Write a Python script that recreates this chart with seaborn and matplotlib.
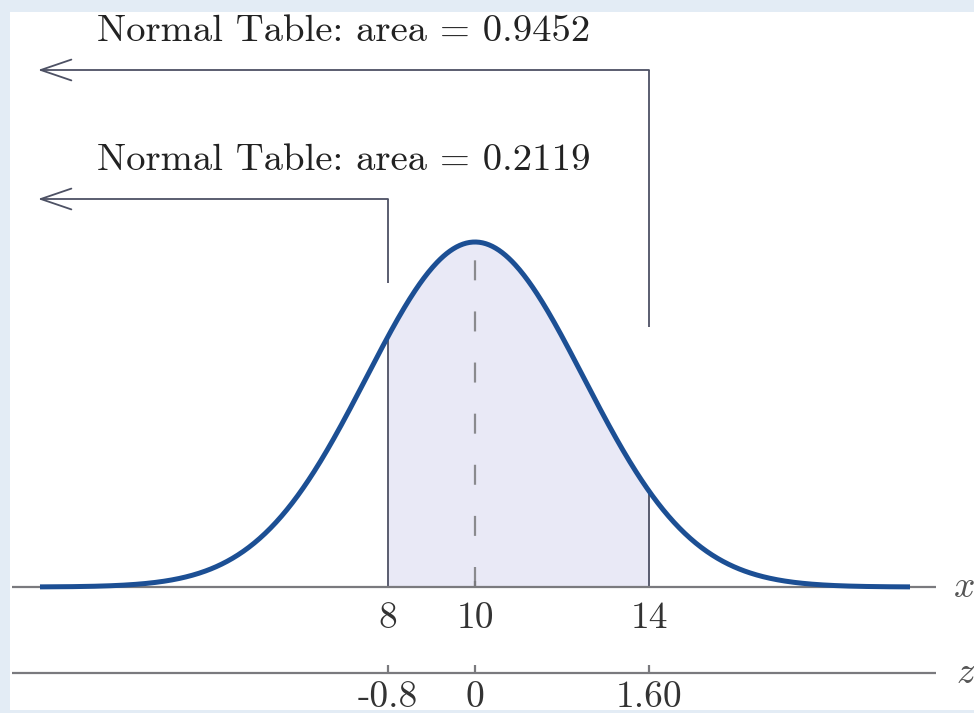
import numpy as np
import pandas as pd
import matplotlib
matplotlib.use("Agg")
import matplotlib.pyplot as plt
from matplotlib.patches import Rectangle
import seaborn as sns

# Distribution and the two cut points
mu = 10
sigma = 2.5
x_ticks = [8, 10, 14]
x_tick_labels = ["8", "10", "14"]
z_tick_labels = ["-0.8", "0", "1.60"]
cut_points = [8, 14]
table_areas = [0.2119, 0.9452]
x_min, x_max = 0, 20

sns.set_theme(style="white")
plt.rcParams["font.family"] = ["cmr10", "DejaVu Serif"]
plt.rcParams["axes.unicode_minus"] = False

W, H = 974, 713
fig = plt.figure(figsize=(W / 100, H / 100), dpi=100)
fig.patch.set_facecolor("#e3ecf5")

# white panel inside a thin tinted frame
left_px, top_px, bottom_px = 10, 12, 710
panel = [left_px / W, (H - bottom_px) / H, (W - left_px) / W, (bottom_px - top_px) / H]
fig.patches.append(Rectangle((panel[0], panel[1]), panel[2], panel[3],
                             transform=fig.transFigure, facecolor="white",
                             edgecolor="none", zorder=-5))
ax = fig.add_axes(panel)
ax.set_axis_off()

pdf = lambda v: np.exp(-0.5 * ((np.asarray(v) - mu) / sigma) ** 2) / (sigma * np.sqrt(2 * np.pi))
peak = float(pdf(mu))

# pixel layout helpers
X0, SX = 40, (910 - 40) / (x_max - x_min)
BASE, KY = 587, peak / (587 - 242)
px_x = lambda X: x_min + (X - X0) / SX
px_y = lambda Y: (BASE - Y) * KY

ax.set_xlim(px_x(left_px), px_x(W))
ax.set_ylim(px_y(bottom_px), px_y(top_px))

xs = np.linspace(x_min, x_max, 801)
df = pd.DataFrame({"x": xs, "density": pdf(xs)})

curve_col = "#1c4f94"
axis_col = "#7a7a7e"
line_col = "#4d5164"
fs_title = 27.9
fs_tick = 27

# shaded area between the cut points
mask = (df["x"] >= cut_points[0]) & (df["x"] <= cut_points[1])
ax.fill_between(df["x"][mask], 0, df["density"][mask], color="#e9e9f6", lw=0, zorder=1)
ax.vlines(cut_points, 0, pdf(cut_points), color=line_col, lw=1.3, zorder=2)

# mean line
ax.plot([mu, mu], [0, peak], color="#8a8a8e", lw=1.6, ls=(0, (9, 14)), zorder=2)

# x and z axes
z_y = px_y(673)
ax.hlines([0, z_y], px_x(12), px_x(936), color=axis_col, lw=1.6, zorder=2)
ax.vlines(x_ticks, z_y, px_y(665), color=axis_col, lw=1.6, zorder=2)
ax.vlines([mu], 0, px_y(581), color=axis_col, lw=1.6, zorder=2)

sns.lineplot(data=df, x="x", y="density", ax=ax, color=curve_col, lw=3.6,
             solid_capstyle="butt", zorder=4, legend=False)
ax.set_axis_off()

for t, xl, zl in zip(x_ticks, x_tick_labels, z_tick_labels):
    ax.text(t, px_y(602), xl, ha="center", va="top", fontsize=fs_tick, color="#333333")
    ax.text(t, px_y(681), zl, ha="center", va="top", fontsize=fs_tick, color="#333333")

ax.text(px_x(965), 0, "x", ha="center", va="center", fontsize=fs_tick, color="#555555",
        family=["cmmi10", "DejaVu Serif"])
ax.text(px_x(965), z_y, "z", ha="center", va="center", fontsize=fs_tick, color="#555555",
        family=["cmmi10", "DejaVu Serif"])

# "Normal Table" callouts with left-pointing arrows
callouts = [
    (cut_points[1], table_areas[1], 41, 70, 327),
    (cut_points[0], table_areas[0], 170, 199, 283),
]
for cx, area, text_base, arrow_y, stem_end in callouts:
    ax.text(px_x(97), px_y(text_base), f"Normal Table: area = {area:.4f}",
            ha="left", va="baseline", fontsize=fs_title, color="#222222")
    ax.plot([cx, cx], [px_y(arrow_y), px_y(stem_end)], color=line_col, lw=1.3,
            solid_capstyle="butt")
    ax.annotate("", xy=(px_x(38), px_y(arrow_y)), xytext=(cx, px_y(arrow_y)),
                arrowprops=dict(arrowstyle="->,head_length=2.2,head_width=0.75",
                                mutation_scale=10, color=line_col, lw=1.3,
                                shrinkA=0, shrinkB=0))

fig.savefig("out.png", dpi=100, facecolor=fig.get_facecolor())
